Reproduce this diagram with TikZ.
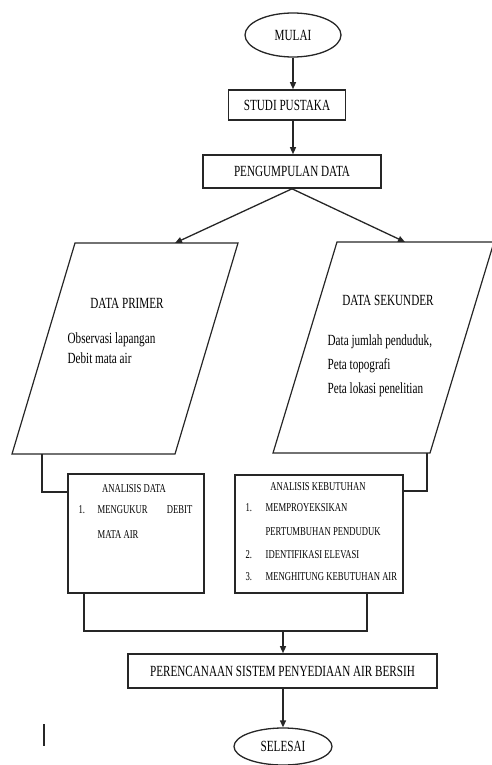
\documentclass[tikz,border=0pt]{standalone}
\usepackage{fontspec}
\setmainfont{Liberation Serif}
\newfontfamily\cond[FakeStretch=0.72]{Liberation Serif}
\usetikzlibrary{shapes.geometric,arrows.meta}
\begin{document}
\begin{tikzpicture}[x=1pt,y=-1pt,
  line width=1.3pt, draw=black!85,
  big/.style={font=\cond\fontsize{15.5}{18}\selectfont},
  small/.style={font=\cond\fontsize{12}{14}\selectfont},
  term/.style={ellipse, draw, inner sep=0pt, big},
  proc/.style={rectangle, draw, inner sep=0pt, line width=1.6pt, big},
  txt/.style={inner sep=0pt, big},
  stxt/.style={inner sep=0pt, small},
  arr/.style={-{Triangle[length=7pt,width=6pt]}},
  para/.style={line width=1.2pt}]
\useasboundingbox (0,0) rectangle (492,765);
\clip (0,0) rectangle (492,765);

% top
\node[term, minimum width=96pt, minimum height=44pt] (mulai) at (293,35) {MULAI};
\node[proc, minimum width=117pt, minimum height=30pt] (studi) at (287,105) {STUDI PUSTAKA};
\node[proc, minimum width=178pt, minimum height=33pt] (peng) at (292,171.5) {PENGUMPULAN DATA};

\draw[arr] (mulai.south) -- (mulai.south |- studi.north);
\draw[arr] (mulai.south |- studi.south) -- (mulai.south |- peng.north);

% parallelograms
\draw[para] (75,243) -- (238,243) -- (175,454) -- (12,454) -- cycle;
\draw[para] (337,242) -- (494,242) -- (430,453) -- (273,453) -- cycle;
\coordinate (tl) at (175,243);
\coordinate (tr) at (405,242);
\draw[arr] (peng.south) -- (tl);
\draw[arr] (peng.south) -- (tr);

\node[txt] (dp) at (127,303) {DATA PRIMER};
\node[txt, anchor=west] (dp1) at (67,340) {Observasi lapangan};
\node[txt, anchor=west] (dp2) at (67,358) {Debit mata air};

\node[txt] (ds) at (388,300) {DATA SEKUNDER};
\node[txt, anchor=west] (ds1) at (327,342) {Data jumlah penduduk,};
\node[txt, anchor=west] (ds2) at (327,366) {Peta topografi};
\node[txt, anchor=west] (ds3) at (327,390) {Peta lokasi penelitian};

% analysis boxes
\node[proc, minimum width=136pt, minimum height=119pt] (adata) at (136,533.5) {};
\node[proc, minimum width=168pt, minimum height=118pt] (akeb) at (319,534) {};

\node[stxt] (ad0) at (134,489) {ANALISIS DATA};
\node[stxt, anchor=west] (ad1n) at (78,510) {1.};
\node[stxt, anchor=west] (ad1) at (97,510) {MENGUKUR};
\node[stxt, anchor=east] (ad1b) at (193,510) {DEBIT};
\node[stxt, anchor=west] (ad2) at (97,535) {MATA AIR};

\node[stxt] (ak0) at (318,487) {ANALISIS KEBUTUHAN};
\node[stxt, anchor=west] (ak1n) at (245,508) {1.};
\node[stxt, anchor=west] (ak1) at (265,508) {MEMPROYEKSIKAN};
\node[stxt, anchor=west] (ak1b) at (265,532) {PERTUMBUHAN PENDUDUK};
\node[stxt, anchor=west] (ak2n) at (245,555) {2.};
\node[stxt, anchor=west] (ak2) at (265,555) {IDENTIFIKASI ELEVASI};
\node[stxt, anchor=west] (ak3n) at (245,577) {3.};
\node[stxt, anchor=west] (ak3) at (265,577) {MENGHITUNG KEBUTUHAN AIR};

% connectors to boxes
\coordinate (pl) at (42,454);
\coordinate (jl) at (68,492);
\draw (pl) |- (jl);
\coordinate (pr) at (427,453);
\coordinate (jr) at (403,491);
\draw (pr) |- (jr);

% bottom
\node[proc, minimum width=309pt, minimum height=34pt] (plan) at (282.5,671) {PERENCANAAN SISTEM PENYEDIAAN AIR BERSIH};
\node[term, minimum width=98pt, minimum height=37pt] (selesai) at (283,746.5) {SELESAI};

\coordinate (bl) at (84,593);
\coordinate (br) at (367,593);
\coordinate (mid) at (283,631);
\draw (bl) |- (mid) -| (br);
\draw[arr] (mid) -- (mid |- plan.north);
\draw[arr] (mid |- plan.south) -- (selesai.north);

% stray cursor mark
\coordinate (c1) at (44,724);
\coordinate (c2) at (44,746);
\draw[line width=1.2pt] (c1) -- (c2);
\end{tikzpicture}
\end{document}
